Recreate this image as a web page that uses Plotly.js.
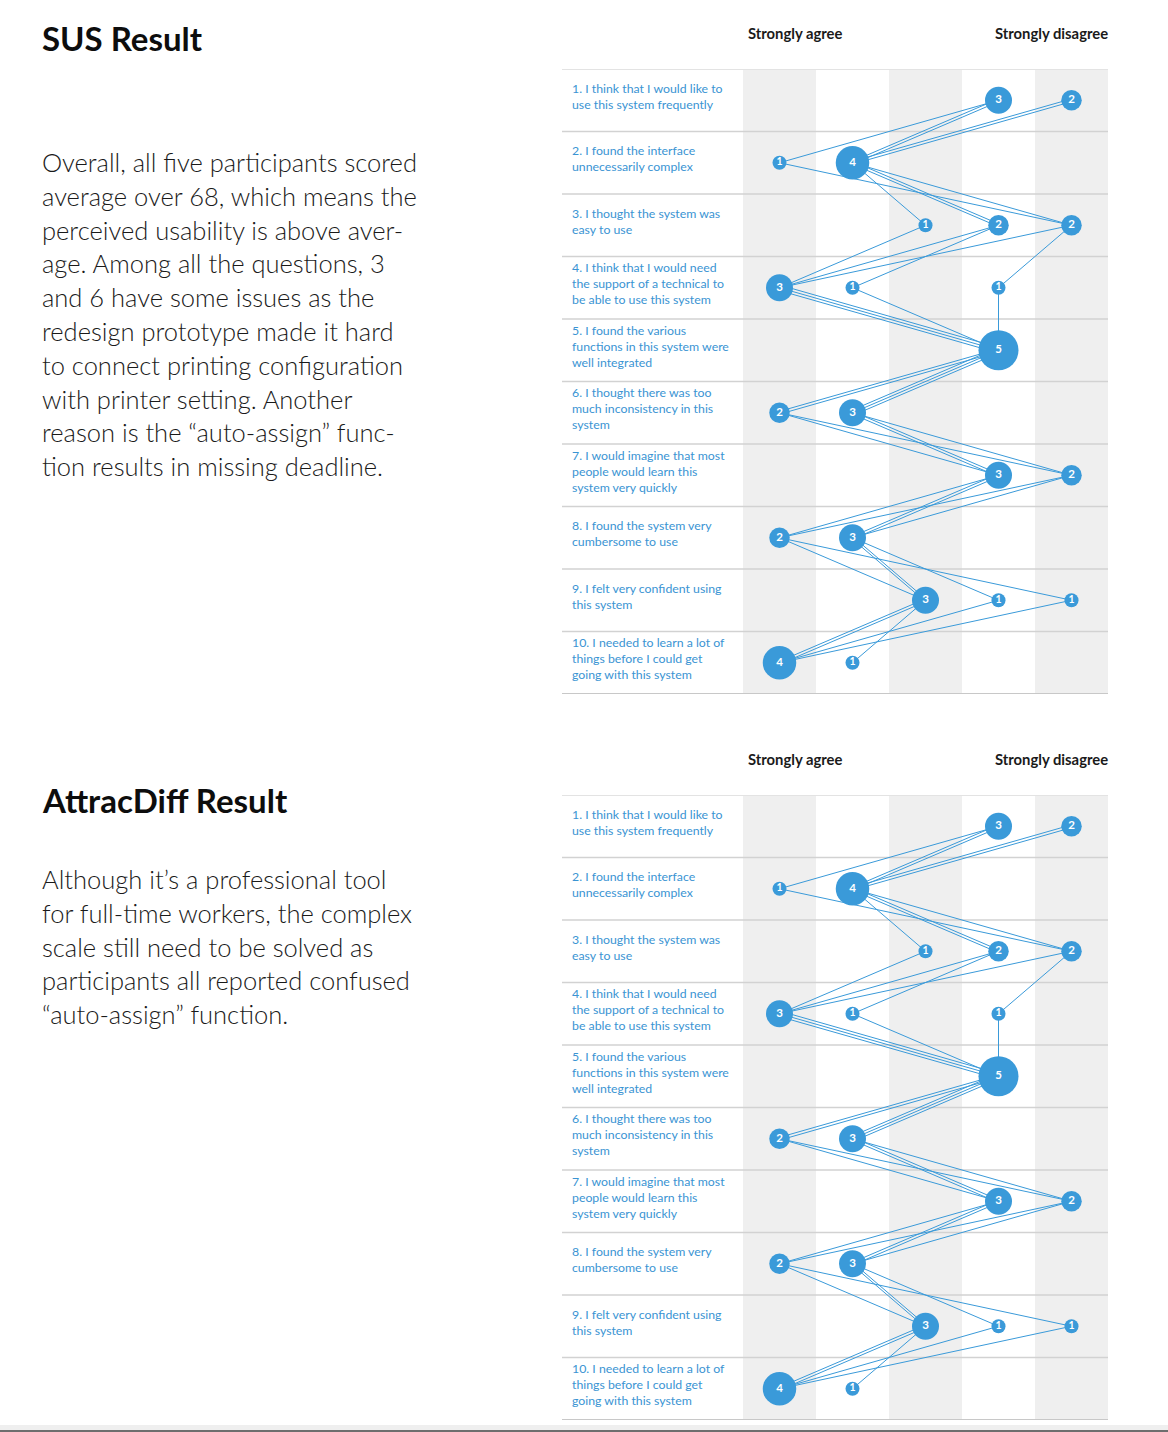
<!DOCTYPE html>
<html>
<head>
<meta charset="utf-8">
<script src="https://cdn.plot.ly/plotly-3.0.1.min.js"></script>
<style>
html,body{margin:0;padding:0;background:#ffffff;}
#chart{width:1168px;height:1432px;}
</style>
</head>
<body>
<div id="chart"></div>
<script>
// ---------------- data ----------------
const questionLabels = [
  "1. I think that I would like to<br>use this system frequently",
  "2. I found the interface<br>unnecessarily complex",
  "3. I thought the system was<br>easy to use",
  "4. I think that I would need<br>the support of a technical to<br>be able to use this system",
  "5. I found the various<br>functions in this system were<br>well integrated",
  "6. I thought there was too<br>much inconsistency in this<br>system",
  "7. I would imagine that most<br>people would learn this<br>system very quickly",
  "8. I found the system very<br>cumbersome to use",
  "9. I felt very confident using<br>this system",
  "10. I needed to learn a lot of<br>things before I could get<br>going with this system"
];
const scaleEnds = ["Strongly agree", "Strongly disagree"];
const scaleColumns = [1, 2, 3, 4, 5];

// answer (1 = strongly agree ... 5 = strongly disagree) of each participant, per question
const participant1 = [4, 1, 5, 1, 4, 1, 4, 1, 3, 1];
const participant2 = [4, 2, 3, 1, 4, 1, 5, 1, 5, 1];
const participant3 = [4, 2, 4, 1, 4, 2, 4, 2, 3, 1];
const participant4 = [5, 2, 4, 2, 4, 2, 4, 2, 3, 2];
const participant5 = [5, 2, 5, 4, 4, 2, 5, 2, 4, 1];

const susTitle = "SUS Result";
const susText = [
  "Overall, all five participants scored",
  "average over 68, which means the",
  "perceived usability is above aver-",
  "age. Among all the questions, 3",
  "and 6 have some issues as the",
  "redesign prototype made it hard",
  "to connect printing configuration",
  "with printer setting. Another",
  "reason is the \u201cauto-assign\u201d func-",
  "tion results in missing deadline."
];
const attracTitle = "AttracDiff Result";
const attracText = [
  "Although it\u2019s a professional tool",
  "for full-time workers, the complex",
  "scale still need to be solved as",
  "participants all reported confused",
  "\u201cauto-assign\u201d function."
];

// ---------------- layout helpers ----------------
const W = 1168, H = 1432;
const px = v => v / W;
const py = v => 1 - v / H;
const BLUE = '#3a9ad9';
const LABEL_BLUE = '#3a94d3';
const FONT = 'Lato, "Open Sans", sans-serif';
const participants = [participant1, participant2, participant3, participant4, participant5];
const nQ = questionLabels.length;

const panels = [
  {off: 0,   xa: 'x',  ya: 'y',  title: susTitle,    text: susText,    titleY: 38,  textY: 162},
  {off: 726, xa: 'x2', ya: 'y2', title: attracTitle, text: attracText, titleY: 800, textY: 879}
];

// build segments with small parallel offsets for bundles
function buildLines() {
  const xs = [], ys = [];
  const spacing = 0.045;
  for (let q = 0; q < nQ - 1; q++) {
    const groups = {};
    participants.forEach((p, k) => {
      const key = p[q] + '-' + p[q + 1];
      (groups[key] = groups[key] || []).push(k);
    });
    Object.keys(groups).forEach(key => {
      const g = groups[key];
      g.forEach((k, j) => {
        const o = (j - (g.length - 1) / 2) * spacing;
        const p = participants[k];
        xs.push(p[q], p[q + 1], null);
        ys.push(q + 1 + o, q + 2 + o, null);
      });
    });
  }
  return {xs, ys};
}

function buildBubbles() {
  const bx = [], by = [], bn = [];
  for (let q = 0; q < nQ; q++) {
    scaleColumns.forEach(c => {
      const n = participants.filter(p => p[q] === c).length;
      if (n > 0) { bx.push(c); by.push(q + 1); bn.push(n); }
    });
  }
  return {bx, by, bn};
}

const lines = buildLines();
const bubbles = buildBubbles();

const data = [];
const shapes = [];
const annotations = [];
const layout = {
  width: W, height: H,
  margin: {l: 0, r: 0, t: 0, b: 0},
  paper_bgcolor: '#ffffff',
  plot_bgcolor: 'rgba(0,0,0,0)',
  showlegend: false,
  font: {family: FONT}
};

panels.forEach((pn, i) => {
  const xName = i === 0 ? 'xaxis' : 'xaxis2';
  const yName = i === 0 ? 'yaxis' : 'yaxis2';
  layout[xName] = {domain: [px(743), px(1108)], range: [0.5, 5.5], visible: false, fixedrange: true, anchor: pn.ya};
  layout[yName] = {domain: [py(694 + pn.off), py(69 + pn.off)], range: [nQ + 0.5, 0.5], visible: false, fixedrange: true, anchor: pn.xa};

  // gray columns
  scaleColumns.filter(c => c % 2 === 1).forEach(c => {
    shapes.push({type: 'rect', layer: 'below', xref: pn.xa, yref: 'paper',
      x0: c - 0.5, x1: c + 0.5, y0: py(694 + pn.off), y1: py(69 + pn.off),
      fillcolor: '#efefef', line: {width: 0}});
  });
  // row separators
  for (let r = 0; r <= nQ; r++) {
    const edge = r === 0 ? 'top' : (r === nQ ? 'bottom' : 'mid');
    shapes.push({type: 'line', layer: 'below', xref: 'paper', yref: pn.ya,
      x0: px(562), x1: px(1108), y0: r + 0.5, y1: r + 0.5,
      line: {color: edge === 'top' ? '#e3e3e3' : (edge === 'bottom' ? '#c8c8c8' : '#d2d2d2'),
             width: edge === 'mid' ? 1.3 : 2}});
  }

  data.push({
    type: 'scatter', mode: 'lines', xaxis: pn.xa, yaxis: pn.ya,
    x: lines.xs, y: lines.ys, line: {color: BLUE, width: 1}, hoverinfo: 'skip'
  });
  data.push({
    type: 'scatter', mode: 'markers+text', xaxis: pn.xa, yaxis: pn.ya,
    x: bubbles.bx, y: bubbles.by,
    text: bubbles.bn.map(String),
    textposition: 'middle center',
    textfont: {color: '#ffffff', family: FONT, weight: 700, size: bubbles.bn.map(n => n === 1 ? 10.5 : 11.5)},
    marker: {color: BLUE, size: bubbles.bn.map(n => 7.5 + 6.5 * n), line: {width: 0}, opacity: 1},
    hoverinfo: 'skip', cliponaxis: false
  });

  // question labels
  questionLabels.forEach((lab, q) => {
    annotations.push({xref: 'paper', yref: pn.ya, x: px(570), y: q + 1, xanchor: 'left', yanchor: 'middle',
      align: 'left', showarrow: false, text: lab, yshift: 4,
      font: {family: FONT, size: 12.3, color: LABEL_BLUE}});
  });
  // scale headers
  annotations.push({xref: 'paper', yref: 'paper', x: px(746), y: py(33.3 + pn.off), xanchor: 'left', yanchor: 'middle',
    showarrow: false, text: scaleEnds[0], font: {family: FONT, size: 14.8, weight: 700, color: '#1a1a1a'}});
  annotations.push({xref: 'paper', yref: 'paper', x: px(1110), y: py(33.3 + pn.off), xanchor: 'right', yanchor: 'middle',
    showarrow: false, text: scaleEnds[1], font: {family: FONT, size: 14.8, weight: 700, color: '#1a1a1a'}});
  // section title
  annotations.push({xref: 'paper', yref: 'paper', x: px(40), y: py(pn.titleY), xanchor: 'left', yanchor: 'middle',
    showarrow: false, text: pn.title, font: {family: FONT, size: 33, weight: 700, color: '#0d0d0d'}});
  // paragraph lines
  pn.text.forEach((ln, k) => {
    annotations.push({xref: 'paper', yref: 'paper', x: px(40), y: py(pn.textY + k * 33.8), xanchor: 'left', yanchor: 'middle',
      showarrow: false, text: ln, font: {family: FONT, size: 25.5, weight: 300, color: '#1a1a1a'}});
  });
});

// page bottom bar
shapes.push({type: 'rect', layer: 'below', xref: 'paper', yref: 'paper', x0: 0, x1: 1, y0: py(1430), y1: py(1425), fillcolor: '#efefef', line: {width: 0}});
shapes.push({type: 'rect', layer: 'below', xref: 'paper', yref: 'paper', x0: 0, x1: 1, y0: 0, y1: py(1430), fillcolor: '#6e6e6e', line: {width: 0}});

layout.shapes = shapes;
layout.annotations = annotations;

Plotly.newPlot('chart', data, layout, {displayModeBar: false, staticPlot: true});
</script>
</body>
</html>
